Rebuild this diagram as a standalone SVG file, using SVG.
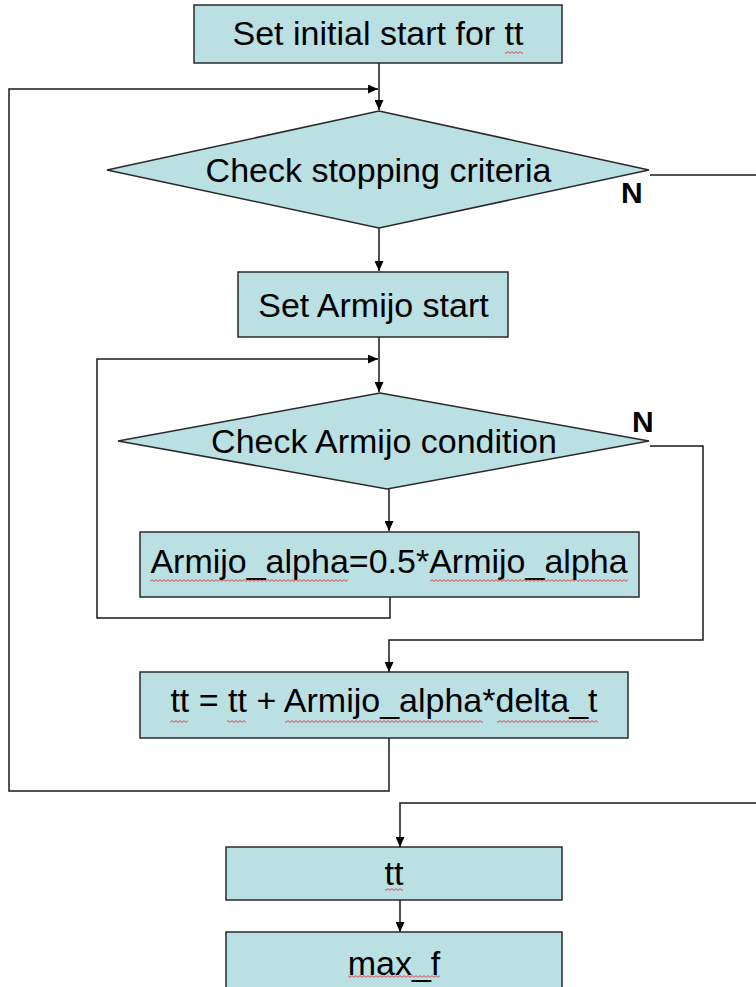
<svg xmlns="http://www.w3.org/2000/svg" width="756" height="987" viewBox="0 0 756 987">
<style>
.node{fill:#BBE0E3;stroke:#2a2a2a;stroke-width:1.5}
.t{font-family:"Liberation Sans",Arial,sans-serif;font-size:34px;fill:#000;text-anchor:middle}
.n{font-family:"Liberation Sans",Arial,sans-serif;font-size:30px;font-weight:bold;fill:#000}
.c{fill:none;stroke:#1a1a1a;stroke-width:1.5}
.sq{fill:url(#sq)}
</style>
<defs>
<marker id="ah" markerUnits="userSpaceOnUse" markerWidth="10" markerHeight="9" refX="10" refY="4.5" orient="auto">
<path d="M0,0 L10,4.5 L0,9 Z" fill="#000"/>
</marker>
<pattern id="sq" width="4" height="3" patternUnits="userSpaceOnUse">
<path d="M0,0.6 L2,2.4 L4,0.6" fill="none" stroke="#e02020" stroke-width="0.8"/>
</pattern>
</defs>
<g id="connectors">
<path class="c" d="M379,63 L379,110" marker-end="url(#ah)"/>
<path class="c" d="M389,738 L389,791 L9,791 L9,89 L378,89" marker-end="url(#ah)"/>
<path class="c" d="M379,228 L379,271" marker-end="url(#ah)"/>
<path class="c" d="M379,337 L379,392" marker-end="url(#ah)"/>
<path class="c" d="M390,597 L390,618 L97,618 L97,359 L378,359" marker-end="url(#ah)"/>
<path class="c" d="M389,489 L389,531" marker-end="url(#ah)"/>
<path class="c" d="M650,446 L703,446 L703,640 L389,640 L389,672" marker-end="url(#ah)"/>
<path class="c" d="M650,175 L756,175"/>
<path class="c" d="M756,803 L400,803 L400,847" marker-end="url(#ah)"/>
<path class="c" d="M400,900 L400,932" marker-end="url(#ah)"/>
</g>
<g id="n1">
<rect class="node" x="194" y="5" width="368" height="58"/>
<text class="t" x="378" y="45">Set initial start for tt</text>
<rect class="sq" x="505" y="51" width="18" height="3"/>
</g>
<g id="n2">
<polygon class="node" points="379,111 649,170 379,228 107,170"/>
<text class="t" x="378.5" y="182">Check stopping criteria</text>
<text class="n" x="621" y="203">N</text>
</g>
<g id="n3">
<rect class="node" x="238" y="272" width="270" height="65"/>
<text class="t" x="373.5" y="317">Set Armijo start</text>
</g>
<g id="n4">
<polygon class="node" points="380,393 649,441 387,489 118,441"/>
<text class="t" x="384" y="453">Check Armijo condition</text>
<text class="n" x="632" y="432">N</text>
</g>
<g id="n5">
<rect class="node" x="140" y="532" width="499" height="65"/>
<text class="t" x="389" y="573">Armijo_alpha=0.5*Armijo_alpha</text>
<rect class="sq" x="150" y="579" width="198" height="3"/>
<rect class="sq" x="430" y="579" width="198" height="3"/>
</g>
<g id="n6">
<rect class="node" x="140" y="672" width="488" height="66"/>
<text class="t" x="384" y="712">tt = tt + Armijo_alpha*delta_t</text>
<rect class="sq" x="170" y="720" width="18" height="3"/>
<rect class="sq" x="227" y="720" width="19" height="3"/>
<rect class="sq" x="285" y="720" width="198" height="3"/>
<rect class="sq" x="497" y="720" width="101" height="3"/>
</g>
<g id="n7">
<rect class="node" x="226" y="847" width="336" height="53"/>
<text class="t" x="394" y="885">tt</text>
<rect class="sq" x="385" y="888" width="18" height="3"/>
</g>
<g id="n8">
<rect class="node" x="226" y="932" width="336" height="70"/>
<text class="t" x="394" y="975">max_f</text>
<rect class="sq" x="348" y="975" width="92" height="3"/>
</g>
</svg>
